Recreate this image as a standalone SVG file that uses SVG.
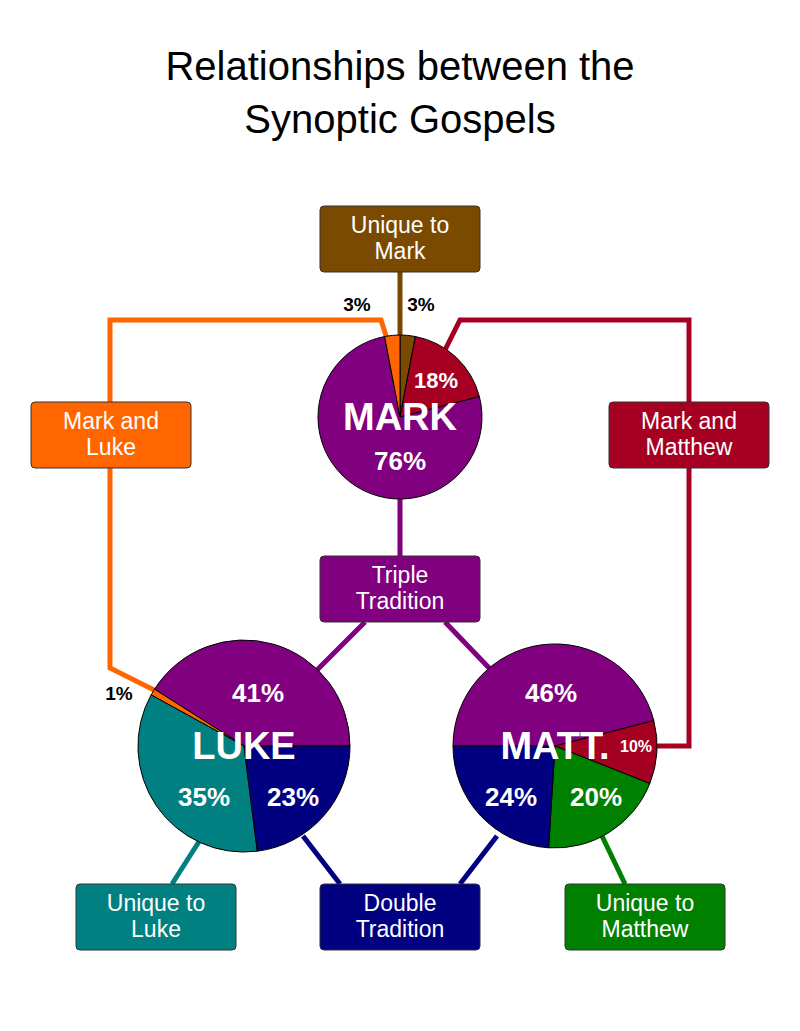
<svg xmlns="http://www.w3.org/2000/svg" width="800" height="1031" viewBox="0 0 800 1031">
<style>
.t{font-family:"Liberation Sans",Arial,sans-serif;text-anchor:middle}
.title{font-size:40px;fill:#000}
.box{stroke:#333;stroke-width:1}
.bl{font-size:23px;fill:#fff}
.pc{font-size:26px;font-weight:bold;fill:#fff}
.big{font-size:38px;font-weight:bold;fill:#fff}
.blk{font-size:19px;font-weight:bold;fill:#000}
.w{stroke:#000;stroke-width:1}
.c{fill:none;stroke-width:5}
</style>
<rect width="800" height="1031" fill="#fff"/>
<text class="t title" x="400" y="80">Relationships between the</text>
<text class="t title" x="400" y="133">Synoptic Gospels</text>
<g id="connectors">
<path class="c" stroke="#7a4a00" d="M400,272 V405"/>
<path class="c" stroke="#ff6600" d="M389,345 L381,320 H110 V668 L158,692"/>
<path class="c" stroke="#a50021" d="M445,350 L460,320 H689 V746 H650"/>
<path class="c" stroke="#800080" d="M400,499 V556 M365,622 L316,671 M445,622 L492,671"/>
<path class="c" stroke="#008080" d="M200,840 L172,884"/>
<path class="c" stroke="#000080" d="M303,836 L340,884 M497,836 L460,884"/>
<path class="c" stroke="#008000" d="M602,836 L625,884"/>
</g>
<g id="mark">
<path class="w" fill="#7a4a00" d="M400,417 L400,335 A82,82 0 0 1 415.4,336.5 Z"/>
<path class="w" fill="#a50021" d="M400,417 L415.4,336.5 A82,82 0 0 1 479.4,396.6 Z"/>
<path class="w" fill="#800080" d="M400,417 L479.4,396.6 A82,82 0 1 1 384.6,336.5 Z"/>
<path class="w" fill="#ff6600" d="M400,417 L384.6,336.5 A82,82 0 0 1 400,335 Z"/>
<text class="t pc" x="436" y="388" style="font-size:22px">18%</text>
<text class="t big" x="400" y="430">MARK</text>
<text class="t pc" x="400" y="470">76%</text>
<text class="t blk" x="357" y="311">3%</text>
<text class="t blk" x="421" y="311">3%</text>
</g>
<g id="luke">
<path class="w" fill="#800080" d="M244,746 L350,746 A106,106 0 0 0 154.5,689.2 Z"/>
<path class="w" fill="#ff6600" d="M244,746 L154.5,689.2 A106,106 0 0 0 151.1,694.9 Z"/>
<path class="w" fill="#008080" d="M244,746 L151.1,694.9 A106,106 0 0 0 257.3,851.2 Z"/>
<path class="w" fill="#000080" d="M244,746 L257.3,851.2 A106,106 0 0 0 350,746 Z"/>
<text class="t pc" x="258" y="702">41%</text>
<text class="t big" x="244" y="759">LUKE</text>
<text class="t pc" x="204" y="806">35%</text>
<text class="t pc" x="293" y="806">23%</text>
<text class="t blk" x="119" y="700">1%</text>
</g>
<g id="matt">
<path class="w" fill="#800080" d="M555,746 L453,746 A102,102 0 0 1 653.8,720.6 Z"/>
<path class="w" fill="#a50021" d="M555,746 L653.8,720.6 A102,102 0 0 1 649.8,783.5 Z"/>
<path class="w" fill="#008000" d="M555,746 L649.8,783.5 A102,102 0 0 1 548.6,847.8 Z"/>
<path class="w" fill="#000080" d="M555,746 L548.6,847.8 A102,102 0 0 1 453,746 Z"/>
<text class="t pc" x="551" y="702">46%</text>
<text class="t big" x="555" y="759">MATT.</text>
<text class="t pc" x="636" y="752" style="font-size:16px">10%</text>
<text class="t pc" x="511" y="806">24%</text>
<text class="t pc" x="596" y="806">20%</text>
</g>
<g id="unique-mark"><rect class="box" x="320" y="206" width="160" height="66" rx="4" fill="#7a4a00"/><text class="t bl" x="400" y="233">Unique to</text><text class="t bl" x="400" y="259">Mark</text></g>
<g id="mark-luke"><rect class="box" x="31" y="402" width="160" height="66" rx="4" fill="#ff6600"/><text class="t bl" x="111" y="429">Mark and</text><text class="t bl" x="111" y="455">Luke</text></g>
<g id="mark-matthew"><rect class="box" x="609" y="402" width="160" height="66" rx="4" fill="#a50021"/><text class="t bl" x="689" y="429">Mark and</text><text class="t bl" x="689" y="455">Matthew</text></g>
<g id="triple"><rect class="box" x="320" y="556" width="160" height="66" rx="4" fill="#800080"/><text class="t bl" x="400" y="583">Triple</text><text class="t bl" x="400" y="609">Tradition</text></g>
<g id="unique-luke"><rect class="box" x="76" y="884" width="160" height="66" rx="4" fill="#008080"/><text class="t bl" x="156" y="911">Unique to</text><text class="t bl" x="156" y="937">Luke</text></g>
<g id="double"><rect class="box" x="320" y="884" width="160" height="66" rx="4" fill="#000080"/><text class="t bl" x="400" y="911">Double</text><text class="t bl" x="400" y="937">Tradition</text></g>
<g id="unique-matthew"><rect class="box" x="565" y="884" width="160" height="66" rx="4" fill="#008000"/><text class="t bl" x="645" y="911">Unique to</text><text class="t bl" x="645" y="937">Matthew</text></g>
</svg>
